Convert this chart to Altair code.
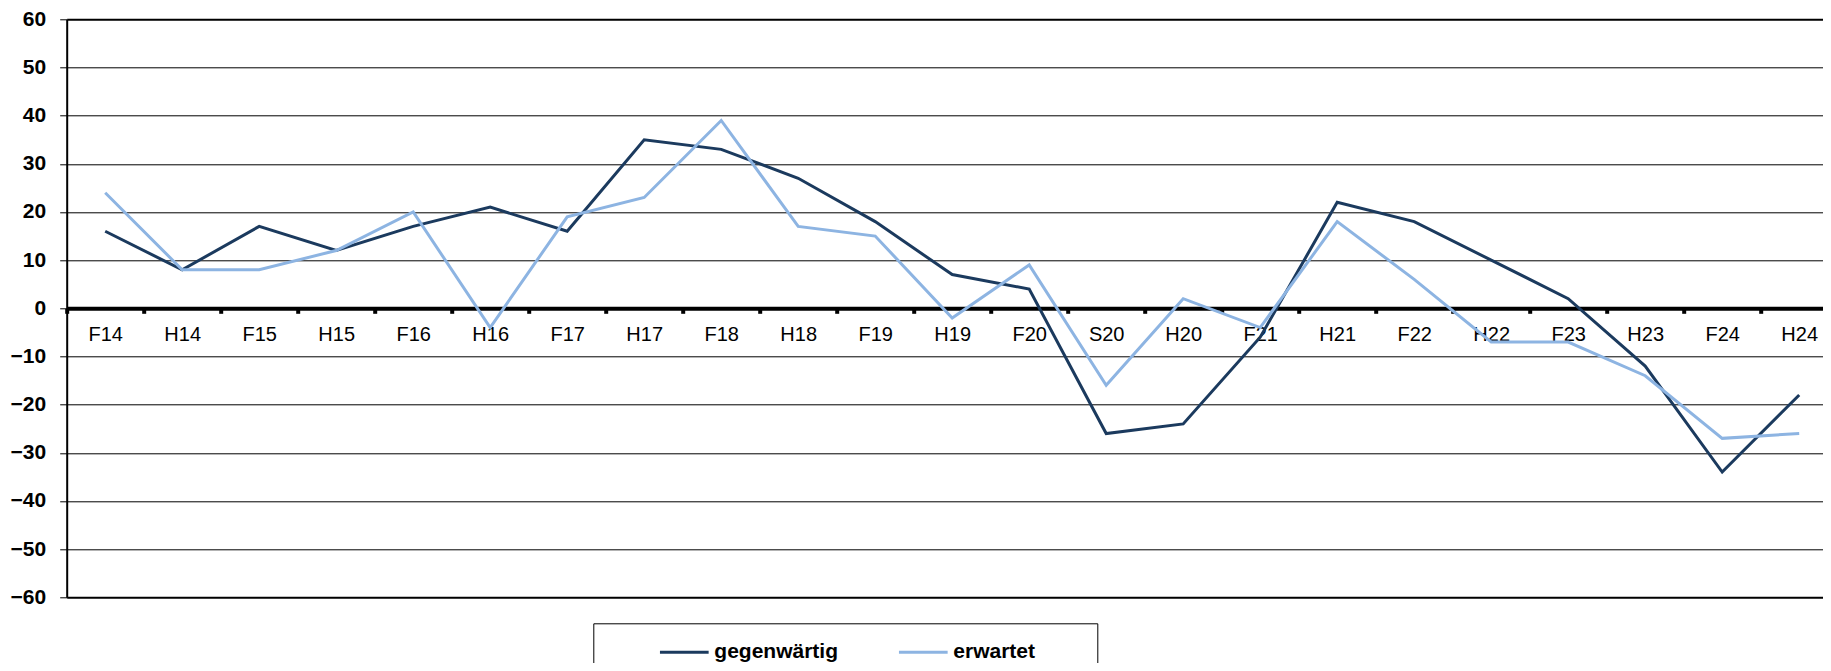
import altair as alt
import pandas as pd

categories = ["F14", "H14", "F15", "H15", "F16", "H16", "F17", "H17", "F18", "H18",
              "F19", "H19", "F20", "S20", "H20", "F21", "H21", "F22", "H22", "F23",
              "H23", "F24", "H24"]
gegenwaertig = [16, 8, 17, 12, 17, 21, 16, 35, 33, 27, 18, 7, 4, -26, -24, -6, 22, 18, 10, 2, -12, -34, -18]
erwartet = [24, 8, 8, 12, 20, -4, 19, 23, 39, 17, 15, -2, 9, -16, 2, -4, 18, 6, -7, -7, -14, -27, -26]
series_names = ["gegenwärtig", "erwartet"]
series_colors = ["#1B3A5E", "#8DB4E2"]
y_ticks = list(range(-60, 61, 10))

rows = []
for name, vals in zip(series_names, [gegenwaertig, erwartet]):
    for c, v in zip(categories, vals):
        rows.append({"Periode": c, "Wert": v, "Reihe": name})
df = pd.DataFrame(rows)

FONT = "Liberation Sans"
W = 1771
H = 578

tail = "\u00a0" * 10 + "\u200b"

chart = alt.Chart(df).mark_line(strokeWidth=3).encode(
    x=alt.X("Periode:N", sort=categories, title=None,
            scale=alt.Scale(paddingInner=0, paddingOuter=0),
            axis=alt.Axis(orient="bottom", offset=-H / 2, labelAngle=0,
                          labelFont=FONT, labelFontSize=20, labelColor="#000",
                          labelPadding=11, tickBand="extent", tickColor="#000",
                          tickWidth=4, tickSize=5, domainColor="#000",
                          domainWidth=4, grid=False)),
    y=alt.Y("Wert:Q", title=None,
            scale=alt.Scale(domain=[-60, 60], nice=False),
            axis=alt.Axis(values=y_ticks, labelFont=FONT, labelFontSize=21,
                          labelFontWeight="bold", labelColor="#000",
                          labelPadding=14, tickSize=7, tickColor="#000",
                          tickWidth=1, domainColor="#000", domainWidth=2,
                          grid=True, gridColor="#000",
                          gridWidth={"condition": {"test": "abs(datum.value) == 60", "value": 2}, "value": 1})),
    color=alt.Color("Reihe:N", sort=series_names,
                    scale=alt.Scale(domain=series_names, range=series_colors),
                    legend=alt.Legend(title=" ", titleOrient="left", titlePadding=62,
                                      orient="none", legendX=526.6, legendY=604,
                                      direction="horizontal", columns=2,
                                      columnPadding=54, padding=3,
                                      strokeColor="#000", fillColor="#fff",
                                      symbolType="stroke", symbolSize=2370,
                                      symbolStrokeWidth=3, labelOffset=4,
                                      labelLimit=400,
                                      labelFont=FONT, labelFontSize=21,
                                      labelFontWeight="bold", labelColor="#000",
                                      labelExpr="datum.label == 'erwartet' ? datum.label + '" + tail + "' : datum.label")),
).properties(
    width=W, height=H,
    autosize=alt.AutoSizeParams(type="none"),
    padding={"left": 58.7, "top": 11.3, "right": -14.7, "bottom": 65.7},
).configure_view(strokeWidth=0).configure(background="#ffffff")

chart.save("out.html", embed_options={"renderer": "svg", "actions": False})
